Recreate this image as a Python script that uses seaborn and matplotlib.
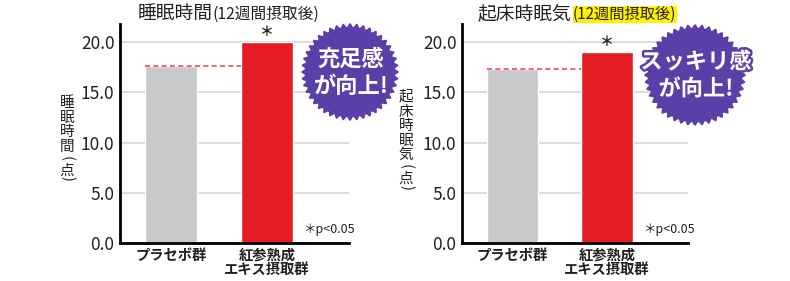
import matplotlib
matplotlib.use("Agg")
import numpy as np
import pandas as pd
import seaborn as sns
import matplotlib.pyplot as plt
from matplotlib import patheffects as pe

# ---- data ----
categories = ["プラセボ群", "紅参熟成\nエキス摂取群"]
sleep_time = [17.6, 20.0]
morning_sleepiness = [17.3, 19.0]
yticks = [0, 5, 10, 15, 20]
ytick_labels = ["0.0", "5.0", "10.0", "15.0", "20.0"]
titles = ["睡眠時間", "起床時眠気"]
subtitle = "(12週間摂取後)"
ylabels = ["睡眠時間(点)", "起床時眠気(点)"]
badges = [["充足感", "が向上!"], ["スッキリ感", "が向上!"]]
ptext = "＊p<0.05"

sns.set_theme(style="white")
plt.rcParams["font.family"] = ["Noto Sans CJK JP", "DejaVu Sans"]

W, H = 790, 281
fig = plt.figure(figsize=(W / 100, H / 100), dpi=100)
fig.patch.set_facecolor("white")

GRAY = "#C8C9CB"
RED = "#E41D25"
PURPLE = "#5B3FA9"
TXT = "#231F20"
BAR_W = 0.54


def px_rect(x0, y0, x1, y1):
    return [x0 / W, (H - y1) / H, (x1 - x0) / W, (y1 - y0) / H]


def panel(rect, values, p_x):
    ax = fig.add_axes(rect)
    df = pd.DataFrame({"group": categories, "value": values})
    sns.barplot(data=df, x="group", y="value", hue="group",
                palette=[GRAY, RED], width=BAR_W, legend=False, ax=ax,
                saturation=1, zorder=3)
    ax.set_xlim(-0.53, 1.855)
    ax.set_ylim(0, 21.8)
    ax.set_yticks(yticks)
    ax.set_yticklabels(ytick_labels, fontsize=12.5, color=TXT)
    ax.yaxis.grid(True, color="#DCDCDC", lw=1.4)
    ax.set_axisbelow(True)
    for s in ["top", "right"]:
        ax.spines[s].set_visible(False)
    for s in ["left", "bottom"]:
        ax.spines[s].set_color("black")
        ax.spines[s].set_linewidth(2)
        ax.spines[s].set_zorder(5)
    ax.tick_params(length=0, axis="y", pad=4)
    ax.tick_params(length=0, axis="x", pad=4)
    ax.set_xlabel("")
    ax.set_ylabel("")
    for lbl in ax.get_xticklabels():
        lbl.set_fontweight("bold")
        lbl.set_fontsize(10.3)
        lbl.set_color(TXT)
        lbl.set_linespacing(1.0)
    # dashed reference line at placebo level
    ax.plot([0 - BAR_W / 2, 1 - BAR_W / 2], [values[0], values[0]],
            ls=(0, (3, 2)), color="#EE4B52", lw=1.2, zorder=4)
    ax.text(1, values[1] + 0.35, "＊", ha="center", va="bottom",
            fontsize=10, fontweight="bold", color=TXT)
    ax.text(p_x, 0.06, ptext, transform=ax.transAxes, ha="left",
            va="center", fontsize=9, color=TXT)
    return ax


ax1 = panel(px_rect(120, 24, 349, 243), sleep_time, 0.80)
ax2 = panel(px_rect(462, 24, 688, 243), morning_sleepiness, 0.80)

# overlay in pixel coordinates
ov = fig.add_axes([0, 0, 1, 1], zorder=10)
ov.set_xlim(0, W)
ov.set_ylim(H, 0)
ov.axis("off")
ov.patch.set_alpha(0)

# titles
ov.text(213, 19, titles[0], ha="right", va="baseline", fontsize=13.5, color=TXT)
ov.text(213, 19, subtitle, ha="left", va="baseline", fontsize=11.3, color=TXT)
ov.text(571, 19, titles[1], ha="right", va="baseline", fontsize=13.5, color=TXT)
ov.text(573, 19, subtitle, ha="left", va="baseline", fontsize=11, color=TXT,
        bbox=dict(facecolor="#FFF100", edgecolor="none", pad=0.3))


# vertical y labels
def vlabel(x, y0, s, step=14.6, fs=10.5):
    y = y0
    for ch in s:
        if ch == "(":
            ov.text(x, y - 3, ch, ha="center", va="center", rotation=-90,
                    fontsize=fs, color=TXT)
            y += 9
        elif ch == ")":
            ov.text(x, y - 6, ch, ha="center", va="center", rotation=-90,
                    fontsize=fs, color=TXT)
            y += 9
        else:
            ov.text(x, y, ch, ha="center", va="center", fontsize=fs, color=TXT)
            y += step


vlabel(67, 103, ylabels[0])
vlabel(406, 97, ylabels[1])


# badges
def badge(cx, cy, R, lines, fs, stroke=False):
    th = np.linspace(0, 2 * np.pi, 721)
    r = R + 1.8 * np.cos(44 * th)
    ov.fill(cx + r * np.cos(th), cy + r * np.sin(th), color=PURPLE, lw=0)
    effects = [pe.withStroke(linewidth=3.5, foreground=PURPLE)] if stroke else None
    ov.text(cx + 1, cy - 13, lines[0], ha="center", va="center", fontsize=fs,
            fontweight="bold", color="white", path_effects=effects)
    ov.text(cx + 1, cy + 14, lines[1], ha="center", va="center", fontsize=fs,
            fontweight="bold", color="white", path_effects=effects)


badge(350, 72, 47, badges[0], 16)
badge(695, 75, 49, badges[1], 16, stroke=True)

fig.savefig("out.png", dpi=100)
